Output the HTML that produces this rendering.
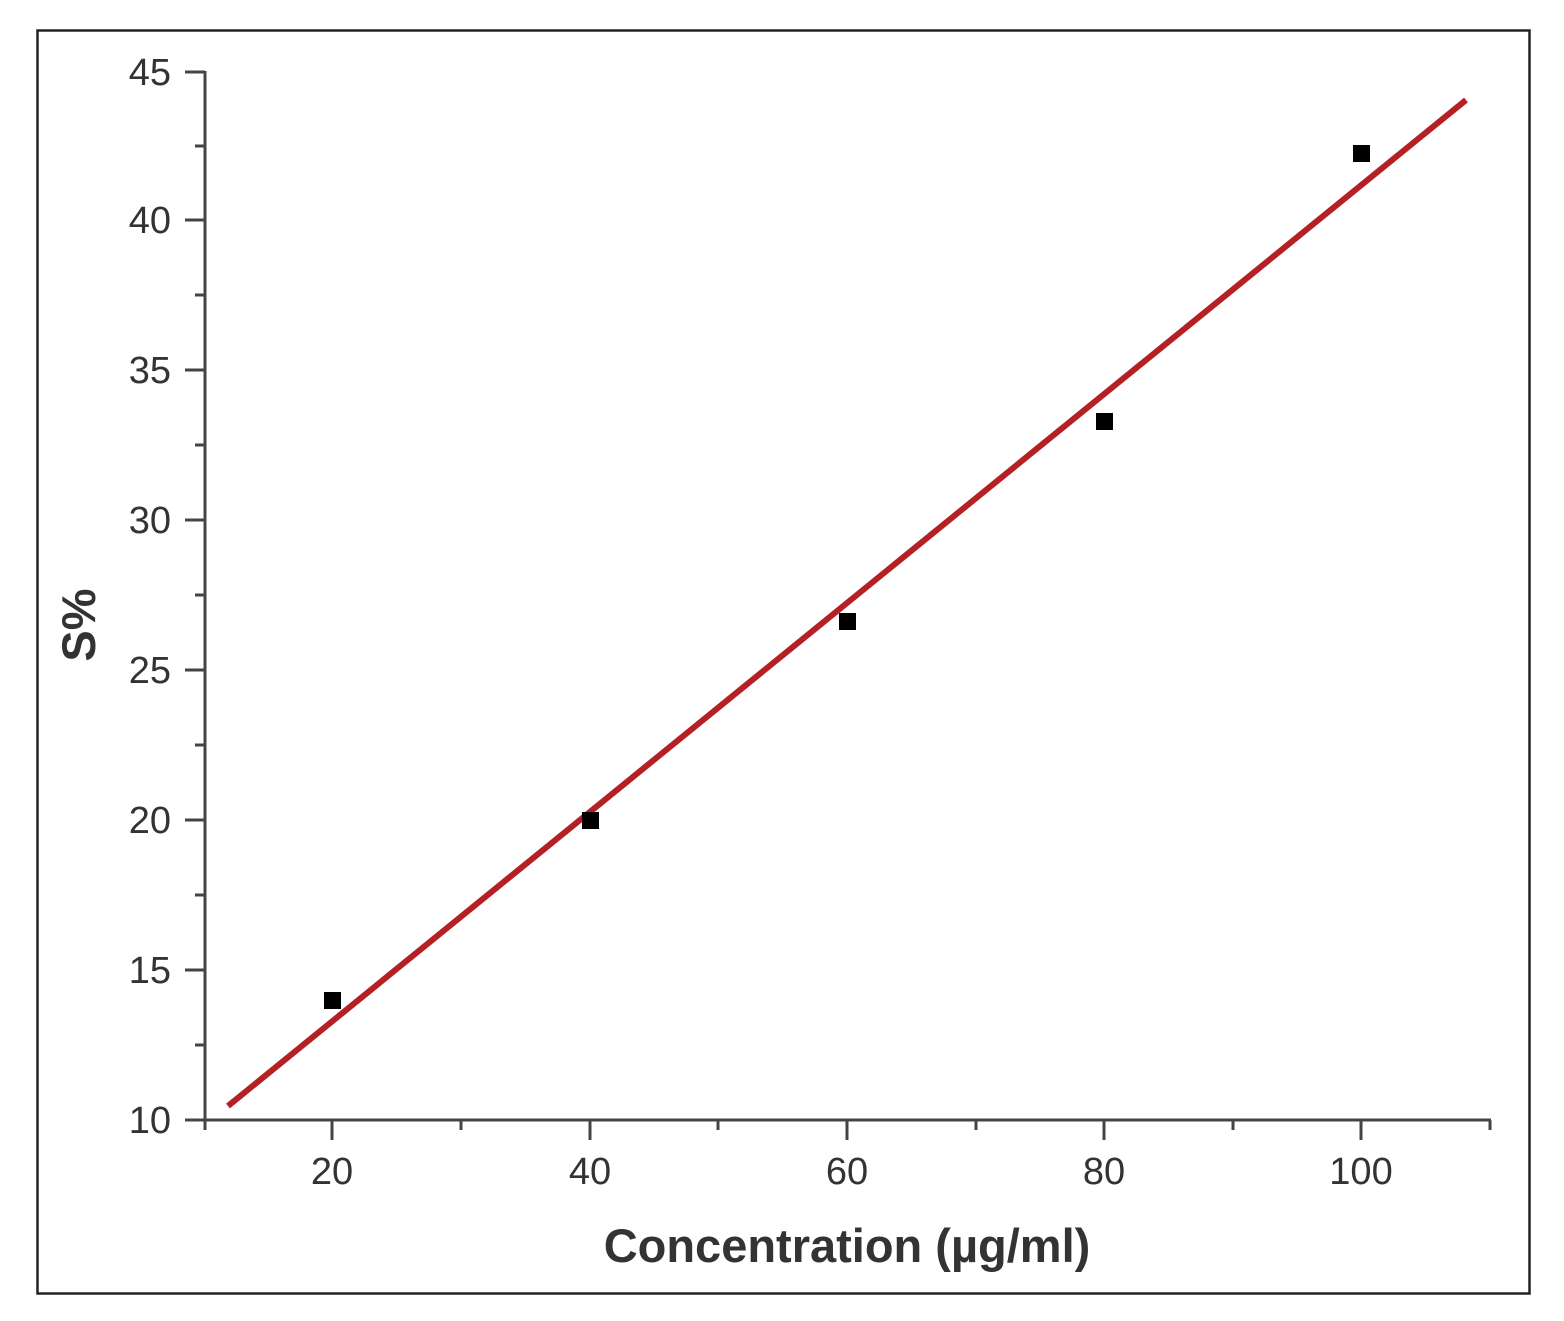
<!DOCTYPE html>
<html><head><style>
html,body{margin:0;padding:0;background:#fff;}
svg{display:block;}
</style></head><body>
<svg width="1564" height="1321" viewBox="0 0 1564 1321" xmlns="http://www.w3.org/2000/svg">
<rect x="0" y="0" width="1564" height="1321" fill="#fff"/>
<rect x="37.5" y="30.5" width="1492" height="1263" fill="none" stroke="#222" stroke-width="2.5"/>
<g stroke="#444" stroke-width="3" fill="none">
<line x1="205" y1="71" x2="205" y2="1121"/>
<line x1="204" y1="1120" x2="1491" y2="1120"/>
<line x1="185" y1="72" x2="205" y2="72"/>
<line x1="185" y1="220" x2="205" y2="220"/>
<line x1="185" y1="370" x2="205" y2="370"/>
<line x1="185" y1="520" x2="205" y2="520"/>
<line x1="185" y1="670" x2="205" y2="670"/>
<line x1="185" y1="820" x2="205" y2="820"/>
<line x1="185" y1="970" x2="205" y2="970"/>
<line x1="185" y1="1120" x2="205" y2="1120"/>
<line x1="195" y1="146" x2="205" y2="146"/>
<line x1="195" y1="295" x2="205" y2="295"/>
<line x1="195" y1="445" x2="205" y2="445"/>
<line x1="195" y1="595" x2="205" y2="595"/>
<line x1="195" y1="745" x2="205" y2="745"/>
<line x1="195" y1="895" x2="205" y2="895"/>
<line x1="195" y1="1045" x2="205" y2="1045"/>
<line x1="332" y1="1120" x2="332" y2="1140"/>
<line x1="590" y1="1120" x2="590" y2="1140"/>
<line x1="847" y1="1120" x2="847" y2="1140"/>
<line x1="1104" y1="1120" x2="1104" y2="1140"/>
<line x1="1361" y1="1120" x2="1361" y2="1140"/>
<line x1="205" y1="1120" x2="205" y2="1130"/>
<line x1="461" y1="1120" x2="461" y2="1130"/>
<line x1="718" y1="1120" x2="718" y2="1130"/>
<line x1="976" y1="1120" x2="976" y2="1130"/>
<line x1="1233" y1="1120" x2="1233" y2="1130"/>
<line x1="1490" y1="1120" x2="1490" y2="1130"/>
</g>
<g font-family="Liberation Sans, sans-serif" font-size="38" fill="#333" text-anchor="end">
<text x="171" y="85">45</text>
<text x="171" y="233">40</text>
<text x="171" y="383">35</text>
<text x="171" y="533">30</text>
<text x="171" y="683">25</text>
<text x="171" y="833">20</text>
<text x="171" y="983">15</text>
<text x="171" y="1133">10</text>
</g>
<g font-family="Liberation Sans, sans-serif" font-size="38" fill="#333" text-anchor="middle">
<text x="332" y="1184">20</text>
<text x="590" y="1184">40</text>
<text x="847" y="1184">60</text>
<text x="1104" y="1184">80</text>
<text x="1361" y="1184">100</text>
</g>
<text x="847" y="1262" font-family="Liberation Sans, sans-serif" font-size="47" font-weight="bold" fill="#333" text-anchor="middle">Concentration (µg/ml)</text>
<text transform="translate(95,625) rotate(-90)" font-family="Liberation Sans, sans-serif" font-size="47" font-weight="bold" fill="#333" text-anchor="middle">S%</text>
<line x1="228" y1="1106" x2="1466" y2="100" stroke="#b52025" stroke-width="6"/>
<g fill="#000">
<rect x="324" y="992" width="17" height="17"/>
<rect x="582" y="812" width="17" height="17"/>
<rect x="839" y="613" width="17" height="17"/>
<rect x="1096" y="413" width="17" height="17"/>
<rect x="1353" y="145" width="17" height="17"/>
</g>
</svg>
</body></html>
